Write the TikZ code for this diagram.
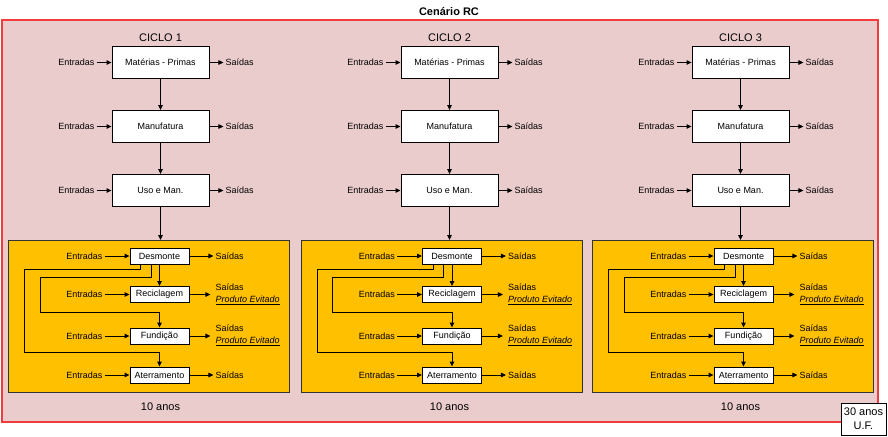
\documentclass[tikz,border=0pt]{standalone}
\usepackage{fontspec}
\setmainfont{Liberation Sans}
\usetikzlibrary{arrows.meta}
\definecolor{scenebg}{RGB}{235,204,204}
\definecolor{sceneedge}{RGB}{240,60,60}
\definecolor{stagebg}{RGB}{255,192,0}
\begin{document}
\begin{tikzpicture}[x=1pt,y=-1pt,
  txt/.style={font=\fontsize{9}{12}\selectfont, inner sep=2pt},
  bigbox/.style={draw=black, line width=0.9pt, fill=white, minimum width=97pt,
    minimum height=32pt, inner sep=0pt, font=\fontsize{9}{11}\selectfont},
  smallbox/.style={draw=black, line width=0.9pt, fill=white, minimum width=59pt,
    minimum height=16pt, inner sep=0pt, font=\fontsize{9}{11}\selectfont},
  stage/.style={draw=black!80, line width=0.9pt, fill=stagebg, anchor=north west,
    minimum width=281pt, minimum height=152pt, inner sep=0pt},
  arr/.style={line width=0.9pt, -{Triangle[length=5pt,width=4.5pt]}},
  lbl/.style={font=\fontsize{11}{14}\selectfont, inner sep=1pt},
]
\useasboundingbox (0,0) rectangle (888,436);

% scenario frame and title
\node[lbl, font=\fontsize{11}{14}\selectfont\bfseries] (title) at (449,11.5) {Cenário RC};
\draw[sceneedge, line width=1.2pt, fill=scenebg] (2,20) rectangle (878,422);

% three life cycles
\foreach \i/\cx/\ox in {1/160.5/8, 2/449.5/300.5, 3/740.5/592} {
  \node[lbl] (ciclo\i) at (\cx,38) {CICLO \i};
  \node[bigbox] (mp\i) at (\cx,62.5) {Matérias - Primas};
  \node[bigbox] (mf\i) at (\cx,126.5) {Manufatura};
  \node[bigbox] (us\i) at (\cx,190.5) {Uso e Man.};
  \foreach \b in {mp,mf,us} {
    \node[txt, anchor=east] (\b-in-\i) at ([xshift=-15pt]\b\i.west) {Entradas};
    \node[txt, anchor=west] (\b-out-\i) at ([xshift=14pt]\b\i.east) {Saídas};
    \draw[arr] (\b-in-\i.east) -- (\b\i.west);
    \draw[arr] (\b\i.east) -- (\b-out-\i.west);
  }
  \draw[arr] (mp\i) -- (mf\i);
  \draw[arr] (mf\i) -- (us\i);

  % end-of-life stage
  \node[stage] (eol\i) at (\ox,240) {};
  \draw[arr] (us\i.south) -- (us\i.south |- eol\i.north);
  \node[smallbox] (de\i) at (\ox+151.5,256) {Desmonte};
  \node[smallbox] (re\i) at (\ox+151.5,294.5) {Reciclagem};
  \node[smallbox] (fu\i) at (\ox+151.5,336) {Fundição};
  \node[smallbox] (at\i) at (\ox+151.5,375) {Aterramento};
  \foreach \b in {de,re,fu,at} {
    \node[txt, anchor=east] (\b-in-\i) at ([xshift=-25pt]\b\i.west) {Entradas};
    \draw[arr] (\b-in-\i.east) -- (\b\i.west);
  }
  \foreach \b in {de,at} {
    \node[txt, anchor=west] (\b-out-\i) at ([xshift=24pt]\b\i.east) {Saídas};
    \draw[arr] (\b\i.east) -- (\b-out-\i.west);
  }
  \foreach \b in {re,fu} {
    \node[txt, anchor=west, align=left] (\b-out-\i) at ([xshift=24pt,yshift=0.5pt]\b\i.east)
      {Saídas\\\underline{\textit{Produto Evitado}}};
    \draw[arr] (\b\i.east) -- ([xshift=-3pt]\b\i.east -| \b-out-\i.west);
  }
  \draw[arr] (de\i) -- (re\i);
  \draw[arr] ([xshift=-8.5pt]de\i.south) |- (\ox+32,277) -- (\ox+32,312) -| (fu\i.north);
  \draw[arr] ([xshift=-19pt]de\i.south) |- (\ox+16.5,269) -- (\ox+16.5,352) -| (at\i.north);

  \node[lbl] (anos\i) at (\cx,406.5) {10 anos};
}

% functional unit
\node[draw=black, line width=0.6pt, fill=white, minimum width=45pt, minimum height=32pt,
  align=center, inner sep=1pt, font=\fontsize{11}{14}\selectfont] (uf) at (863.5,419)
  {30 anos\\U.F.};
\end{tikzpicture}
\end{document}
